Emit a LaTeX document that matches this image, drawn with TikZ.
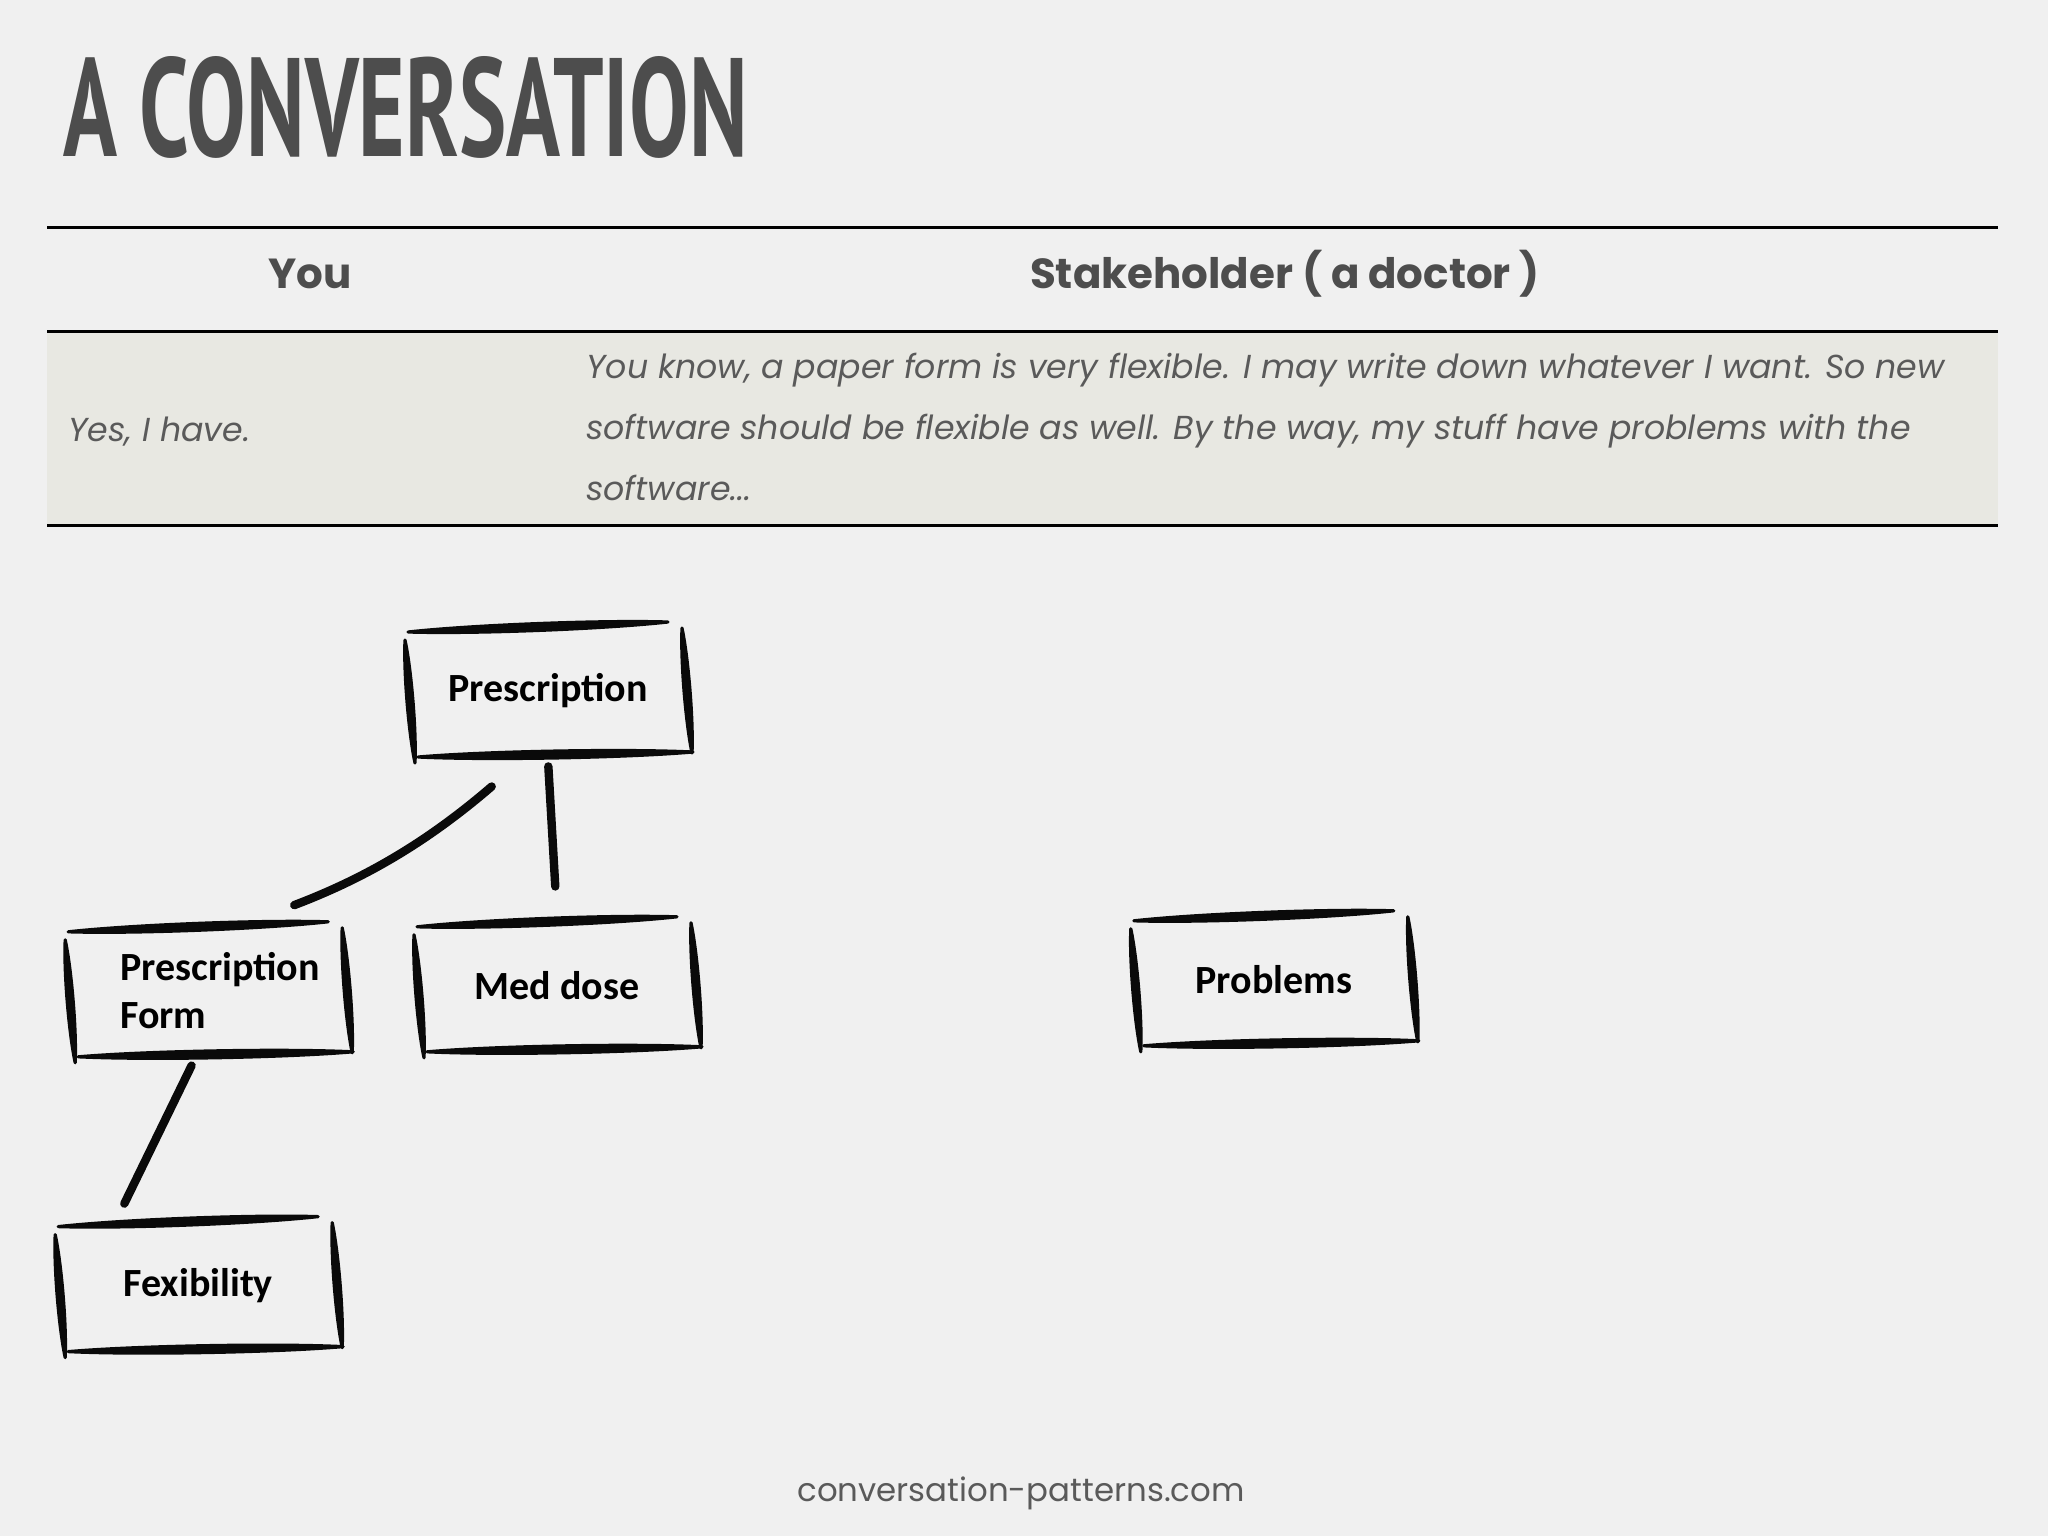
\documentclass[tikz,border=0pt]{standalone}
\usepackage{fontspec}
\usepackage{graphicx}
\usepackage{tikz}
\usetikzlibrary{positioning, calc}
\newfontfamily\titlefont{PT Sans}
\newfontfamily\gothic{Poppins}
\newfontfamily\boxfont{Carlito}
\definecolor{paper}{HTML}{F0F0F0}
\definecolor{rowshade}{HTML}{E8E8E2}
\definecolor{ink}{HTML}{0A0A0A}
\definecolor{slate}{HTML}{4D4D4D}
\definecolor{greytext}{HTML}{5A5A5A}

\newcommand\brush[3]{%
  \filldraw[ink, line width=1.6pt, line join=round, line cap=round]
    (#1) .. controls ($(#1)!0.25!(#2)!#3!90:(#2)$) and ($(#1)!0.75!(#2)!#3!90:(#2)$) .. (#2)
         .. controls ($(#1)!0.75!(#2)!#3!-90:(#2)$) and ($(#1)!0.25!(#2)!#3!-90:(#2)$) .. (#1) -- cycle;}

\newcommand\sketchbox[1]{%
  \coordinate (#1-ta) at ($(#1)+(-140,-59)$);
  \coordinate (#1-tb) at ($(#1)+(120,-69)$);
  \coordinate (#1-la) at ($(#1)+(-143,-51)$);
  \coordinate (#1-lb) at ($(#1)+(-133,72)$);
  \coordinate (#1-ra) at ($(#1)+(134,-63)$);
  \coordinate (#1-rb) at ($(#1)+(144,62)$);
  \coordinate (#1-ba) at ($(#1)+(-130,66)$);
  \coordinate (#1-bb) at ($(#1)+(145,61)$);
  \brush{#1-ta}{#1-tb}{2.3pt}
  \brush{#1-la}{#1-lb}{2pt}
  \brush{#1-ra}{#1-rb}{2pt}
  \brush{#1-ba}{#1-bb}{2.3pt}}

\begin{document}
\begin{tikzpicture}[
  x=0.5pt, y=-0.5pt,
  box/.style = {rectangle, minimum width=143pt, minimum height=69pt,
                inner sep=0pt, align=left,
                font=\boxfont\bfseries\fontsize{20}{24}\selectfont},
  hdr/.style = {inner sep=0pt, text=slate,
                font=\gothic\bfseries\fontsize{21}{25}\selectfont},
  cell/.style = {inner sep=0pt, text=greytext, align=left,
                 font=\gothic\itshape\fontsize{16.6}{30.5}\selectfont},
  rule/.style = {line width=1.5pt, black},
  link/.style = {line width=4.2pt, line cap=round, ink},
]
\fill[paper] (0,0) rectangle (2048,1536);
\useasboundingbox (0,0) rectangle (2048,1536);

\node[anchor=south west, inner sep=0pt, text=slate] (title) at (63,159)
  {\resizebox{342pt}{50pt}{\titlefont\bfseries A CONVERSATION}};

\fill[rowshade] (47,331) rectangle (1998,525);
\draw[rule] (47,227) -- (1998,227);
\draw[rule] (47,331) -- (1998,331);
\draw[rule] (47,525) -- (1998,525);

\node[hdr] (you) at (310,274) {You};
\node[hdr] (stake) at (1285,274) {Stakeholder ( a doctor )};
\node[cell, anchor=west] (yes) at (68,432) {Yes, I have.};
\node[cell, anchor=west] (reply) at (586,427)
  {You know, a paper form is very flexible. I may write down whatever I want. So new\\
   software should be flexible as well. By the way, my stuff have problems with the\\
   software...};

\node[box] (presc) at (548,691) {Prescription};
\node[box, below=78pt of presc, xshift=4.5pt] (meddose) {Med dose};
\node[box, left=31pt of meddose, yshift=-2.5pt, text width=88pt] (pform) {Prescription\\Form};
\node[box, below=78pt of pform, xshift=-5pt] (fex) {Fexibility};
\node[box, right=215pt of meddose, yshift=3pt] (problems) {Problems};

\sketchbox{presc}
\sketchbox{meddose}
\sketchbox{pform}
\sketchbox{fex}
\sketchbox{problems}

\draw[link, shorten <=20pt, shorten >=23pt] ([xshift=-13pt]presc.south) to[bend left=10] ([xshift=21.5pt]pform.north);
\draw[link, shorten <=3pt, shorten >=15pt] (presc.south) -- (meddose.north);
\draw[link, shorten <=3pt, shorten >=7pt] ([xshift=-7pt]pform.south) -- ([xshift=-40pt]fex.north);

\node[text=greytext, font=\gothic\fontsize{16.2}{19}\selectfont] (site) at (1021,1493) {conversation-patterns.com};
\end{tikzpicture}
\end{document}
